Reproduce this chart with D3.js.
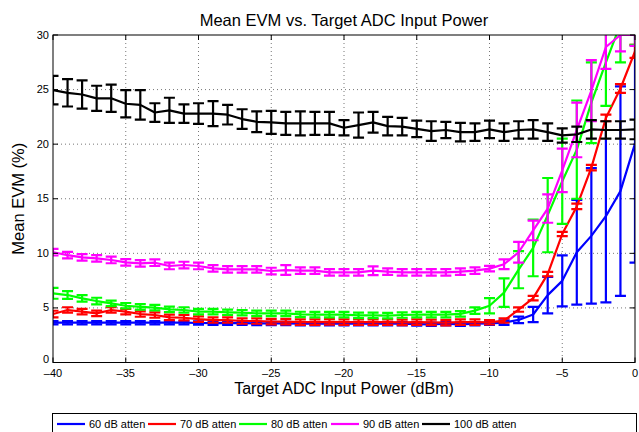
<!DOCTYPE html>
<html><head><meta charset="utf-8">
<script src="https://cdn.jsdelivr.net/npm/d3@7/dist/d3.min.js"></script>
<style>body{margin:0;background:#fff}svg{display:block;font-family:"Liberation Sans",Arial,Helvetica,sans-serif}</style>
</head><body><svg id="c" width="639" height="432"></svg>
<script>
const inputPower = [-40,-39,-38,-37,-36,-35,-34,-33,-32,-31,-30,-29,-28,-27,-26,-25,-24,-23,-22,-21,-20,-19,-18,-17,-16,-15,-14,-13,-12,-11,-10,-9,-8,-7,-6,-5,-4,-3,-2,-1,0];

const evm60 = [3.65,3.65,3.65,3.65,3.65,3.65,3.65,3.65,3.65,3.65,3.62,3.6,3.6,3.6,3.58,3.58,3.58,3.55,3.55,3.55,3.55,3.55,3.55,3.55,3.55,3.52,3.5,3.55,3.5,3.55,3.59,3.65,3.9,4.4,6.17,7.48,10.1,11.6,13.4,15.7,20.05];
const err60 = [0.15,0.15,0.15,0.15,0.15,0.15,0.15,0.15,0.15,0.15,0.15,0.15,0.15,0.15,0.15,0.15,0.15,0.15,0.15,0.15,0.15,0.15,0.15,0.15,0.15,0.15,0.15,0.15,0.15,0.15,0.15,0.2,0.3,0.7,1.67,2.33,4.8,6.2,7.9,9.6,10.9];

const evm70 = [4.44,4.81,4.66,4.5,4.81,4.66,4.44,4.35,4.14,4.1,3.98,3.89,3.89,3.8,3.8,3.75,3.75,3.7,3.7,3.72,3.7,3.7,3.7,3.7,3.68,3.7,3.68,3.65,3.7,3.7,3.68,3.84,4.85,5.9,8.1,11.77,14.3,17.85,22.4,25.1,28.5];
const err70 = [0.3,0.25,0.25,0.25,0.25,0.25,0.25,0.25,0.25,0.25,0.25,0.25,0.25,0.25,0.25,0.25,0.25,0.25,0.25,0.25,0.25,0.25,0.25,0.25,0.25,0.25,0.25,0.25,0.25,0.25,0.2,0.2,0.2,0.2,0.2,0.2,0.25,0.25,0.3,0.4,0.6];

const evm80 = [6.34,6.18,5.88,5.63,5.42,5.2,5.1,5.02,4.87,4.81,4.66,4.66,4.6,4.56,4.5,4.5,4.5,4.4,4.38,4.38,4.38,4.32,4.32,4.3,4.35,4.38,4.38,4.38,4.45,4.75,5.2,6.4,8.5,10.5,13.5,16.6,19.5,23.8,27.5,31.0,32.5];
const err80 = [0.5,0.35,0.3,0.3,0.25,0.25,0.25,0.25,0.25,0.25,0.25,0.25,0.25,0.25,0.25,0.25,0.25,0.25,0.25,0.25,0.25,0.25,0.25,0.25,0.25,0.25,0.25,0.25,0.25,0.3,0.7,1.3,1.7,2.6,3.4,3.9,4.5,3.7,4.0,3.5,3.4];

const evm90 = [10.1,9.84,9.63,9.54,9.39,9.17,9.08,9.14,8.84,8.93,8.84,8.62,8.53,8.53,8.53,8.38,8.47,8.41,8.41,8.26,8.26,8.26,8.41,8.32,8.26,8.26,8.26,8.26,8.32,8.41,8.6,9.0,10.1,12.1,14.1,17.6,21.3,24.9,28.9,30.0,30.0];
const err90 = [0.3,0.3,0.3,0.3,0.3,0.3,0.3,0.3,0.3,0.3,0.3,0.3,0.3,0.3,0.3,0.3,0.45,0.3,0.3,0.3,0.3,0.3,0.4,0.3,0.3,0.3,0.3,0.3,0.3,0.3,0.25,0.45,0.95,0.9,1.3,2.0,2.5,2.8,2.0,1.5,1.0];

const evm100 = [24.95,24.7,24.55,24.2,24.2,23.7,23.6,22.9,23.1,22.8,22.8,22.8,22.7,22.3,22.05,22.0,21.9,21.9,21.9,21.9,21.5,21.75,22.0,21.65,21.6,21.4,21.2,21.3,21.1,21.1,21.35,21.1,21.3,21.35,21.1,20.8,20.9,21.35,21.3,21.3,21.35];
const err100 = [1.3,1.25,1.3,1.15,1.25,1.25,1.35,0.85,1.15,0.85,0.95,1.15,0.9,0.9,0.95,1.05,1.05,1.1,1.05,1.05,0.7,1.15,0.95,0.85,0.8,0.75,0.9,0.75,0.85,0.8,0.8,0.8,0.8,0.85,0.8,0.65,0.7,0.85,0.8,0.8,0.9];

const seriesNames = ["60 dB atten","70 dB atten","80 dB atten","90 dB atten","100 dB atten"];
const seriesColors = ["#0000ff","#ff0000","#00ff00","#ff00ff","#000000"];
const xTicks = [-40,-35,-30,-25,-20,-15,-10,-5,0];
const xTickLabels = ["\u201340","\u201335","\u201330","\u201325","\u201320","\u201315","\u201310","\u20135","0"];
const yTicks = [0,5,10,15,20,25,30];
const yTickLabels = ["0","5","10","15","20","25","30"];

const series = [
  {name: seriesNames[0], color: seriesColors[0], v: evm60, e: err60},
  {name: seriesNames[1], color: seriesColors[1], v: evm70, e: err70},
  {name: seriesNames[2], color: seriesColors[2], v: evm80, e: err80},
  {name: seriesNames[3], color: seriesColors[3], v: evm90, e: err90},
  {name: seriesNames[4], color: seriesColors[4], v: evm100, e: err100}
];

const svg = d3.select("#c");
const L = 53, R = 635, T = 35, B = 362.5;
const x = d3.scaleLinear().domain([-40, 0]).range([L, R]);
const y = d3.scaleLinear().domain([0, 30]).range([B, T]);

svg.append("defs").append("clipPath").attr("id","clip")
  .append("rect").attr("x", L).attr("y", T).attr("width", R - L).attr("height", B - T);

// grid
const grid = svg.append("g");
grid.selectAll(".gx").data(xTicks.slice(1, -1)).join("line")
  .attr("x1", d => x(d)).attr("x2", d => x(d)).attr("y1", T).attr("y2", B)
  .attr("stroke", "#777").attr("stroke-width", 1).attr("stroke-dasharray", "1,3");
grid.selectAll(".gy").data(yTicks.slice(1, -1)).join("line")
  .attr("y1", d => y(d)).attr("y2", d => y(d)).attr("x1", L).attr("x2", R)
  .attr("stroke", "#777").attr("stroke-width", 1).attr("stroke-dasharray", "1,3");

// data
const plot = svg.append("g").attr("clip-path", "url(#clip)");
const line = d3.line().x((d, i) => x(inputPower[i])).y(d => y(d));
const cap = 5.5;
series.forEach(s => {
  const g = plot.append("g").attr("stroke", s.color).attr("stroke-width", 2.2).attr("fill", "none");
  g.selectAll("line.v").data(s.v).join("line")
    .attr("x1", (d, i) => x(inputPower[i])).attr("x2", (d, i) => x(inputPower[i]))
    .attr("y1", (d, i) => y(d - s.e[i])).attr("y2", (d, i) => y(d + s.e[i]));
  g.selectAll("line.t").data(s.v).join("line")
    .attr("x1", (d, i) => x(inputPower[i]) - cap).attr("x2", (d, i) => x(inputPower[i]) + cap)
    .attr("y1", (d, i) => y(d + s.e[i])).attr("y2", (d, i) => y(d + s.e[i]));
  g.selectAll("line.b").data(s.v).join("line")
    .attr("x1", (d, i) => x(inputPower[i]) - cap).attr("x2", (d, i) => x(inputPower[i]) + cap)
    .attr("y1", (d, i) => y(d - s.e[i])).attr("y2", (d, i) => y(d - s.e[i]));
  g.append("path").datum(s.v).attr("d", line).attr("stroke-width", 2.2).attr("stroke-linejoin", "round");
});

// box & ticks
svg.append("rect").attr("x", L).attr("y", T).attr("width", R - L).attr("height", B - T)
  .attr("fill", "none").attr("stroke", "#000").attr("stroke-width", 1);
const tk = 5;
const ticks = svg.append("g").attr("stroke", "#000").attr("stroke-width", 1);
xTicks.forEach(t => {
  ticks.append("line").attr("x1", x(t)).attr("x2", x(t)).attr("y1", B).attr("y2", B - tk);
  ticks.append("line").attr("x1", x(t)).attr("x2", x(t)).attr("y1", T).attr("y2", T + tk);
});
yTicks.forEach(t => {
  ticks.append("line").attr("y1", y(t)).attr("y2", y(t)).attr("x1", L).attr("x2", L + tk);
  ticks.append("line").attr("y1", y(t)).attr("y2", y(t)).attr("x1", R).attr("x2", R - tk);
});

// tick labels
svg.append("g").selectAll("text").data(xTicks).join("text")
  .attr("x", d => x(d)).attr("y", B + 14).attr("text-anchor", "middle")
  .attr("font-size", 11).text((d, i) => xTickLabels[i]);
svg.append("g").selectAll("text").data(yTicks).join("text")
  .attr("x", L - 4).attr("y", d => y(d) + (d === 0 ? 0.5 : 3.5)).attr("text-anchor", "end")
  .attr("font-size", 11).text((d, i) => yTickLabels[i]);

// titles
svg.append("text").attr("x", 344).attr("y", 26).attr("text-anchor", "middle")
  .attr("font-size", 16.5).text("Mean EVM vs. Target ADC Input Power");
svg.append("text").attr("x", 344).attr("y", 394).attr("text-anchor", "middle")
  .attr("font-size", 16).text("Target ADC Input Power (dBm)");
svg.append("text").attr("transform", "translate(24," + ((T + B) / 2) + ") rotate(-90)")
  .attr("text-anchor", "middle").attr("font-size", 16.5).text("Mean EVM (%)");

// legend
const lg = svg.append("g");
lg.append("rect").attr("x", 52.5).attr("y", 413.5).attr("width", 584).attr("height", 25)
  .attr("fill", "#fff").attr("stroke", "#000").attr("stroke-width", 1);
const legX = [57, 148, 239, 331, 422];
series.forEach((s, i) => {
  lg.append("line").attr("x1", legX[i]).attr("x2", legX[i] + 28).attr("y1", 424).attr("y2", 424)
    .attr("stroke", s.color).attr("stroke-width", 2.2);
  lg.append("text").attr("x", legX[i] + 32).attr("y", 428).attr("font-size", 11).text(s.name);
});
</script></body></html>
